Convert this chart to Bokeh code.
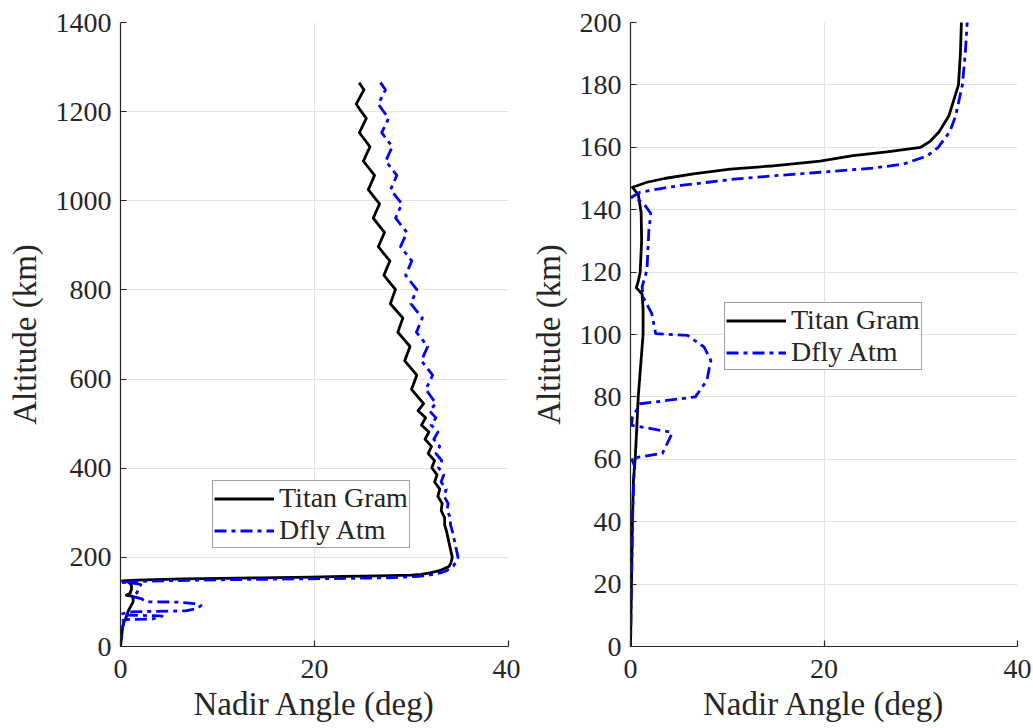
from bokeh.plotting import figure
from bokeh.layouts import row
from bokeh.models import Range1d, FixedTicker, Legend, LegendItem
from bokeh.embed import file_html
from bokeh.resources import INLINE

# ---- data ----
titan_alt = [1265, 1249, 1233, 1217, 1201, 1185, 1169, 1153, 1137, 1121, 1105, 1089, 1073, 1057, 1041, 1025,
             1009, 993, 977, 961, 945, 929, 913, 897, 881, 865, 849, 833, 817, 801, 785, 769, 753, 737, 721,
             705, 689, 673, 657, 641, 625, 609, 593, 577, 561, 545,
             529, 513, 497, 481, 465, 449, 433, 417, 401, 385, 369, 353, 337, 321, 305, 289, 273, 257, 241, 225, 210,
             200, 190, 180, 170, 165, 162, 160, 158.5, 157.3, 155.6, 154, 153, 151.5, 150, 148.8, 147.6, 147.2,
             146, 145, 139, 130, 120, 117, 115, 113, 108, 100, 90, 80, 70, 61, 53, 40, 20, 0]
titan_ang = [24.60, 25.10, 24.70, 24.30, 24.80, 25.34, 24.99, 24.63, 25.18, 25.72, 25.37, 25.04, 25.62, 26.19,
             25.87, 25.55, 26.13, 26.71, 26.38, 26.06, 26.64, 27.22, 26.90, 26.58, 27.17, 27.77, 27.46, 27.15,
             27.75, 28.34, 28.08, 27.82, 28.46, 29.11, 28.85, 28.59, 29.22, 29.85, 29.57, 29.30, 29.92, 30.55,
             30.28, 30.00, 30.62, 31.25,
             30.68, 31.46, 31.03, 31.79, 31.40, 32.06, 31.72, 32.38, 32.09, 32.64, 32.38, 32.92, 32.72, 33.16,
             33.06, 33.41, 33.42, 33.63, 33.79, 33.95, 34.10,
             34.2, 34.1, 33.9, 32.9, 31.9, 31.0, 30.0, 26.5, 23.0, 19.6, 14.5, 10.3, 6.5, 3.5, 1.7, 0.6, 0.2,
             0.5, 0.8, 1.1, 1.15, 1.0, 0.8, 0.6, 1.2, 1.3, 1.3, 1.05, 0.8, 0.65, 0.5, 0.3, 0.2, 0.1, 0.0]

dfly_alt = [1265, 1249, 1233, 1217, 1201, 1185, 1169, 1153, 1137, 1121, 1105, 1089, 1073, 1057, 1041, 1025,
            1009, 993, 977, 961, 945, 929, 913, 897, 881, 865, 849, 833, 817, 801, 785, 769, 753, 737, 721,
            705, 689, 673, 657, 641, 625, 609, 593, 577, 561, 545,
            529, 513, 497, 481, 465, 449, 433, 417, 401, 385, 369, 353, 337, 321, 305, 289, 273, 257, 241, 225, 210,
            200, 190, 180, 170, 165, 160, 157.3, 154.6, 153.3, 152, 150.9, 149.9, 148.8, 147.8, 146.7, 145.6,
            144, 143, 141, 138.8, 133.5, 120.6, 115.3, 112, 106.7, 100.3, 99.7, 96, 91.7, 85.3, 80, 77.8,
            73.5, 70.9, 68.8, 68.3, 61.9, 60.3, 58, 50, 40, 30, 20, 10, 0]
dfly_ang = [26.80, 27.32, 26.95, 26.57, 27.10, 27.64, 27.29, 26.93, 27.48, 28.02, 27.67, 27.34, 27.92, 28.49,
            28.17, 27.85, 28.43, 29.01, 28.68, 28.36, 28.94, 29.52, 29.20, 28.87, 29.45, 30.03, 29.71, 29.39,
            29.96, 30.54, 30.24, 29.93, 30.52, 31.12, 30.81, 30.51, 31.09, 31.67, 31.34, 31.02, 31.60, 32.18,
            31.84, 31.47, 32.00, 32.53,
            31.84, 32.52, 32.02, 32.73, 32.30, 32.91, 32.52, 33.13, 32.79, 33.32, 33.05, 33.58, 33.35, 33.78,
            33.66, 34.01, 34.02, 34.23, 34.39, 34.55, 34.70,
            34.8, 34.6, 34.3, 33.6, 33.0, 31.8, 30.7, 28.2, 25.0, 19.6, 15.0, 11.0, 8.0, 5.2, 3.0, 1.0,
            0.1, 0.9, 1.6, 2.1, 1.9, 1.7, 1.2, 1.3, 2.2, 2.6, 5.9, 7.6, 8.3, 7.9, 6.7, 1.0,
            0.2, 0.1, 4.0, 4.3, 3.3, 0.1, 0.4, 0.3, 0.2, 0.15, 0.1, 0.05, 0.0]

x_ticks = [0, 20, 40]
left_y_ticks = [0, 200, 400, 600, 800, 1000, 1200, 1400]
right_y_ticks = [0, 20, 40, 60, 80, 100, 120, 140, 160, 180, 200]
series_names = ["Titan Gram", "Dfly Atm"]

FONT = "Liberation Serif"
TXT = "#262626"


def make(ymax, yticks, frame_w, border_l, border_r, legend_xy):
    p = figure(frame_width=frame_w, frame_height=624, output_backend="svg", toolbar_location=None,
               x_range=Range1d(0, 40), y_range=Range1d(0, ymax),
               min_border_left=border_l, min_border_right=border_r,
               min_border_top=22, min_border_bottom=82)
    p.outline_line_color = None
    p.background_fill_color = "white"
    p.xaxis.ticker = FixedTicker(ticks=x_ticks)
    p.yaxis.ticker = FixedTicker(ticks=yticks)
    p.xaxis.axis_label = "Nadir Angle (deg)"
    p.yaxis.axis_label = "Altitude (km)"
    for ax in (p.xaxis[0], p.yaxis[0]):
        ax.axis_line_color = TXT
        ax.axis_line_width = 1.2
        ax.major_tick_line_color = TXT
        ax.major_tick_line_width = 1.2
        ax.major_tick_in = 6
        ax.major_tick_out = 0
        ax.minor_tick_line_color = None
        ax.major_label_text_font = FONT
        ax.major_label_text_font_size = "28px"
        ax.major_label_text_color = TXT
        ax.major_label_standoff = 9
        ax.axis_label_text_font = FONT
        ax.axis_label_text_font_size = "33px"
        ax.axis_label_text_font_style = "normal"
        ax.axis_label_text_color = TXT
    p.xaxis.major_label_standoff = 13
    p.xaxis.axis_label_standoff = 5
    p.yaxis.axis_label_standoff = 10
    p.grid.grid_line_color = "#e2e2e2"
    p.grid.grid_line_width = 1

    r1 = p.line(titan_ang, titan_alt, line_color="black", line_width=2.8, line_join="round")
    r2 = p.line(dfly_ang, dfly_alt, line_color="#0000ff", line_width=2.8, line_dash="12 5 4 5",
                line_join="round")
    leg = Legend(items=[LegendItem(label=series_names[0], renderers=[r1]),
                        LegendItem(label=series_names[1], renderers=[r2])],
                 location=legend_xy)
    leg.label_text_font = FONT
    leg.label_text_font_size = "28px"
    leg.label_text_color = TXT
    leg.border_line_color = "#404040"
    leg.border_line_width = 1.2
    leg.background_fill_color = "white"
    leg.background_fill_alpha = 1
    leg.padding = 1
    leg.spacing = 0
    leg.margin = 0
    leg.glyph_width = 60
    leg.glyph_height = 29
    leg.label_height = 29
    leg.label_standoff = 5
    p.add_layout(leg)
    return p


left = make(1400, left_y_ticks, 388, 120, 12, (92, 98))
right = make(200, right_y_ticks, 387, 110, 16, (94, 276))

layout = row(left, right, spacing=0)
open("out.html", "w").write(file_html(layout, INLINE))
